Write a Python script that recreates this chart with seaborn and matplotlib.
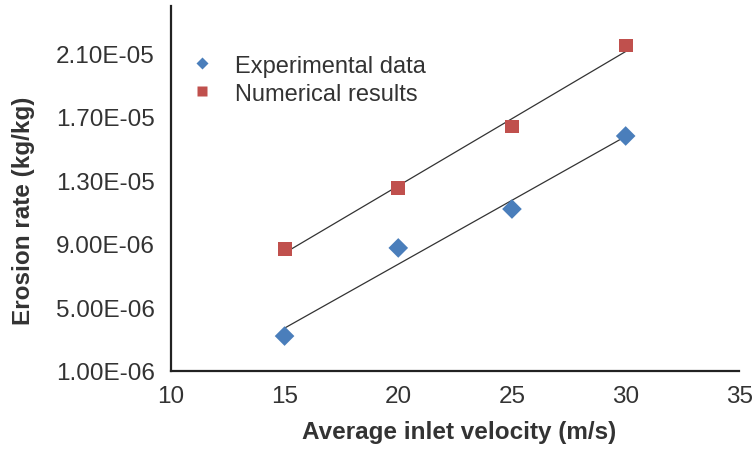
import numpy as np
import pandas as pd
import matplotlib
matplotlib.use("Agg")
import matplotlib.pyplot as plt
import seaborn as sns

# Inlet velocity (m/s) and erosion rates (kg/kg)
velocity = [15, 20, 25, 30]
experimental = [3.2e-06, 8.75e-06, 1.12e-05, 1.58e-05]
numerical = [8.7e-06, 1.25e-05, 1.64e-05, 2.15e-05]
series_names = ["Experimental data", "Numerical results"]

x_ticks = [10, 15, 20, 25, 30, 35]
y_ticks = [1.0e-06, 5.0e-06, 9.0e-06, 1.3e-05, 1.7e-05, 2.1e-05]

df = pd.DataFrame({
    "velocity": velocity * 2,
    "rate": experimental + numerical,
    "series": [series_names[0]] * len(velocity) + [series_names[1]] * len(velocity),
})

sns.set_style("white")
plt.rcParams["font.family"] = ["Liberation Sans", "DejaVu Sans"]

fig = plt.figure(figsize=(7.56, 4.52), dpi=100)
ax = fig.add_axes([0.226, 0.177, 0.752, 0.808])

palette = {series_names[0]: "#4A7EBB", series_names[1]: "#C0504D"}
markers = {series_names[0]: "D", series_names[1]: "s"}

# Linear trend lines for each series
for name in series_names:
    sub = df[df["series"] == name]
    sns.regplot(data=sub, x="velocity", y="rate", ax=ax, scatter=False, ci=None,
                truncate=True, line_kws={"color": "#333333", "lw": 0.9, "zorder": 2})

sns.scatterplot(data=df, x="velocity", y="rate", hue="series", style="series",
                palette=palette, markers=markers, s=100, edgecolor="none",
                ax=ax, zorder=3)

ax.set_xlim(10, 35)
ax.set_ylim(1.0e-06, 2.4e-05)
ax.set_xticks(x_ticks)
ax.set_xticklabels([str(v) for v in x_ticks])
ax.set_yticks(y_ticks)
ax.set_yticklabels([f"{v:.2E}" for v in y_ticks])

ax.tick_params(axis="both", direction="in", length=6, width=1.5, colors="#222222",
               labelsize=17.5, labelcolor="#333333")
ax.tick_params(axis="x", pad=10)
ax.tick_params(axis="y", pad=11.5)

for side in ["top", "right"]:
    ax.spines[side].set_visible(False)
for side in ["left", "bottom"]:
    ax.spines[side].set_color("#222222")
    ax.spines[side].set_linewidth(1.6)

ax.set_xlabel("Average inlet velocity (m/s)", fontsize=17.5, fontweight="bold",
              color="#333333")
ax.set_ylabel("Erosion rate (kg/kg)", fontsize=17.5, fontweight="bold",
              color="#333333")
ax.xaxis.set_label_coords(0.507, -0.135)
ax.yaxis.set_label_coords(-0.239, 0.441)

leg = ax.legend(loc="upper left", bbox_to_anchor=(0.013, 0.866), frameon=False,
                fontsize=17, handlelength=2.0, handletextpad=0.4,
                labelspacing=0.25, borderaxespad=0.0, borderpad=0.0)
for t in leg.get_texts():
    t.set_color("#333333")
for h, ms in zip(leg.legend_handles, [6.6, 7.2]):
    h.set_markersize(ms)

fig.savefig("out.png", dpi=100, facecolor="white")
